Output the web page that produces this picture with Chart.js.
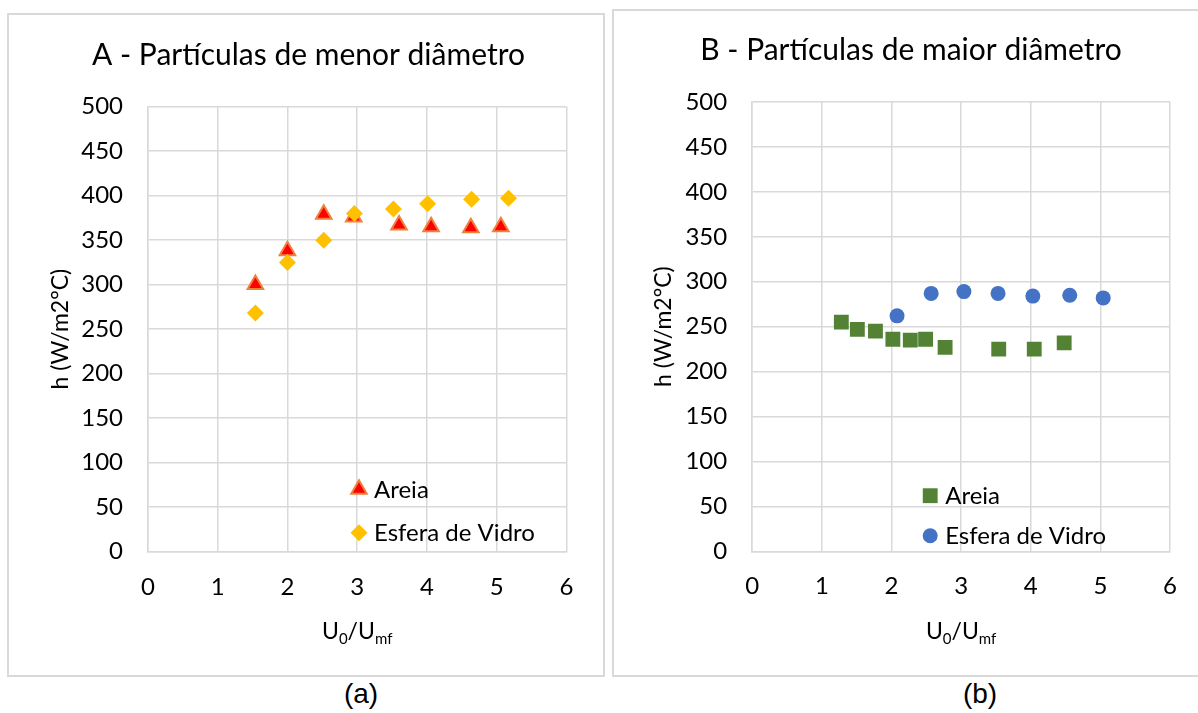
<!DOCTYPE html>
<html>
<head>
<meta charset="utf-8">
<script src="https://cdn.jsdelivr.net/npm/chart.js@4.4.0/dist/chart.umd.min.js"></script>
<style>
  html, body { margin: 0; padding: 0; background: #fff; width: 1198px; height: 713px; overflow: hidden; }
  .frame { position: absolute; box-sizing: border-box; border: 2px solid #d9d9d9; }
  #frameA { left: 7px; top: 13px; width: 598px; height: 664px; }
  #frameB { left: 612px; top: 9px; width: 600px; height: 668px; }
  canvas { position: absolute; }
  #chartA { left: 8px; top: 14px; }
  #chartB { left: 613px; top: 10px; }
  .caption { position: absolute; font-family: "Liberation Sans", Arial, sans-serif; font-size: 28px; color: #000; transform: translateX(-50%); white-space: nowrap; line-height: 1; }
  #capA { left: 361px; top: 680px; }
  #capB { left: 980px; top: 680px; }
</style>
</head>
<body>
<div class="frame" id="frameA"></div>
<div class="frame" id="frameB"></div>
<canvas id="chartA" width="596" height="662"></canvas>
<canvas id="chartB" width="585" height="666"></canvas>
<div class="caption" id="capA">(a)</div>
<div class="caption" id="capB">(b)</div>
<script>
// Panel A – smaller particles: sand (Areia) and glass beads (Esfera de Vidro)
const areiaA_x  = [1.54, 2.00, 2.52, 2.95, 3.60, 4.06, 4.63, 5.06];
const areiaA_h  = [300, 338, 379, 376, 367, 365, 364, 365];
const vidroA_x  = [1.54, 2.00, 2.52, 2.96, 3.52, 4.01, 4.64, 5.17];
const vidroA_h  = [268, 325, 350, 380, 385, 391, 396, 397];

// Panel B – larger particles
const areiaB_x  = [1.28, 1.51, 1.77, 2.02, 2.27, 2.49, 2.77, 3.54, 4.05, 4.48];
const areiaB_h  = [255, 247, 245, 236, 235, 236, 227, 225, 225, 232];
const vidroB_x  = [2.08, 2.57, 3.04, 3.53, 4.03, 4.56, 5.04];
const vidroB_h  = [262, 287, 289, 287, 284, 285, 282];

const seriesNames = ['Areia', 'Esfera de Vidro'];
const titleA = 'A - Partículas de menor diâmetro';
const titleB = 'B - Partículas de maior diâmetro';
const yAxisTitle = 'h (W/m2°C)';
const xAxisParts = [['U', false], ['0', true], ['/U', false], ['mf', true]];

const FONT = 'Lato, "Open Sans", sans-serif';
const INK = '#000000';
const GRID = '#d9d9d9';

const toPoints = (xs, ys) => xs.map((x, i) => ({ x, y: ys[i] }));

// Axis title with subscripts, centred under the plot area
const subTitlePlugin = {
  id: 'subTitle',
  afterDraw(chart, args, opts) {
    const { ctx, chartArea } = chart;
    const big = 23, small = 15;
    let total = 0;
    const pieces = xAxisParts.map(([t, sub]) => {
      ctx.font = (sub ? small : big) + 'px ' + FONT;
      const w = ctx.measureText(t).width;
      total += w;
      return { t, sub, w };
    });
    let x = (chartArea.left + chartArea.right) / 2 - total / 2;
    const y = chartArea.bottom + opts.offset;
    ctx.save();
    ctx.fillStyle = INK;
    ctx.textAlign = 'left';
    ctx.textBaseline = 'alphabetic';
    pieces.forEach(p => {
      ctx.font = (p.sub ? small : big) + 'px ' + FONT;
      ctx.fillText(p.t, x, y + (p.sub ? 13 : 8));
      x += p.w;
    });
    ctx.restore();
  }
};

// Legend drawn inside the plot area
const innerLegendPlugin = {
  id: 'innerLegend',
  afterDraw(chart, args, opts) {
    const { ctx, chartArea } = chart;
    ctx.save();
    ctx.font = '24px ' + FONT;
    ctx.textBaseline = 'middle';
    ctx.textAlign = 'left';
    opts.rows.forEach(row => {
      const ds = chart.data.datasets.find(d => d.label === row.label);
      const mx = chartArea.left + opts.markerX;
      const my = chartArea.top + row.y;
      ctx.fillStyle = ds.backgroundColor;
      ctx.strokeStyle = ds.borderColor;
      ctx.lineWidth = ds.borderWidth;
      Chart.helpers.drawPoint(ctx, {
        pointStyle: ds.pointStyle, radius: ds.pointRadius, rotation: 0, borderWidth: ds.borderWidth
      }, mx, my);
      ctx.fillStyle = INK;
      ctx.fillText(row.label, chartArea.left + opts.textX, my + 1);
    });
    ctx.restore();
  }
};

function makeChart(id, title, datasets, m) {
  const titleLine = 30 * 1.2;
  const yTitleLine = 23 * 1.2;
  return new Chart(document.getElementById(id), {
    type: 'scatter',
    data: { datasets: datasets.map(d => Object.assign({ xAxisID: 'x', yAxisID: 'y' }, d)) },
    plugins: [subTitlePlugin, innerLegendPlugin],
    options: {
      responsive: false,
      animation: false,
      layout: { padding: { left: m.padLeft, right: 0, top: 0, bottom: 0 } },
      plugins: {
        legend: { display: false },
        tooltip: { enabled: false },
        title: {
          display: true,
          text: title,
          color: INK,
          font: { family: FONT, size: 30, weight: 'normal' },
          padding: { top: m.titleCenter - titleLine / 2, bottom: m.top - m.titleCenter - titleLine / 2 }
        },
        subTitle: { offset: m.xTitleOffset },
        innerLegend: m.legend
      },
      scales: {
        x: {
          type: 'linear', min: 0, max: 6,
          ticks: { stepSize: 1, color: INK, padding: 21, font: { family: FONT, size: 24 } },
          grid: { color: GRID, lineWidth: 1.5, drawTicks: false },
          border: { color: GRID, width: 1.5 },
          afterFit(s) { s.height = m.H - m.bottom; }
        },
        y: {
          type: 'linear', position: 'left', min: 0, max: 500,
          ticks: { stepSize: 50, color: INK, padding: 25, font: { family: FONT, size: 24 } },
          grid: { color: GRID, lineWidth: 1.5, drawTicks: false },
          border: { color: GRID, width: 1.5 },
          title: {
            display: true, text: yAxisTitle, color: INK,
            font: { family: FONT, size: 23 },
            padding: { top: m.yTitleCenter - m.padLeft - yTitleLine / 2, bottom: 0 }
          },
          afterFit(s) { s.width = m.left - m.padLeft; }
        },
        // empty margin on the right of the plot area
        yMargin: {
          type: 'linear', position: 'right', min: 0, max: 500,
          ticks: { display: false },
          grid: { display: false, drawTicks: false },
          border: { display: false },
          afterFit(s) { s.width = m.W - m.right; }
        }
      }
    }
  });
}

makeChart('chartA', titleA, [
  { label: seriesNames[1], data: toPoints(vidroA_x, vidroA_h), order: 0,
    pointStyle: 'rectRot', pointRadius: 8.5, backgroundColor: '#FFC000', borderColor: '#FFC000', borderWidth: 0 },
  { label: seriesNames[0], data: toPoints(areiaA_x, areiaA_h), order: 1,
    pointStyle: 'triangle', pointRadius: 9, backgroundColor: '#FF0000', borderColor: '#F0813D', borderWidth: 2 }
], {
  W: 596, H: 662, left: 140, right: 558.4, top: 92.7, bottom: 537.5, padLeft: 5,
  titleCenter: 41, yTitleCenter: 52.5, xTitleOffset: 79,
  legend: { markerX: 211, textX: 226, rows: [
    { label: seriesNames[0], y: 382.6 },
    { label: seriesNames[1], y: 426 }
  ] }
});

makeChart('chartB', titleB, [
  { label: seriesNames[0], data: toPoints(areiaB_x, areiaB_h), order: 1,
    pointStyle: 'rect', pointRadius: 10.5, backgroundColor: '#548235', borderColor: '#548235', borderWidth: 0 },
  { label: seriesNames[1], data: toPoints(vidroB_x, vidroB_h), order: 0,
    pointStyle: 'circle', pointRadius: 7.5, backgroundColor: '#4472C4', borderColor: '#4472C4', borderWidth: 0 }
], {
  W: 585, H: 666, left: 139.2, right: 559.8, top: 92, bottom: 541.3, padLeft: 11,
  titleCenter: 40, yTitleCenter: 50.5, xTitleOffset: 80,
  legend: { markerX: 178, textX: 193, rows: [
    { label: seriesNames[0], y: 393.7 },
    { label: seriesNames[1], y: 433.7 }
  ] }
});
</script>
</body>
</html>
